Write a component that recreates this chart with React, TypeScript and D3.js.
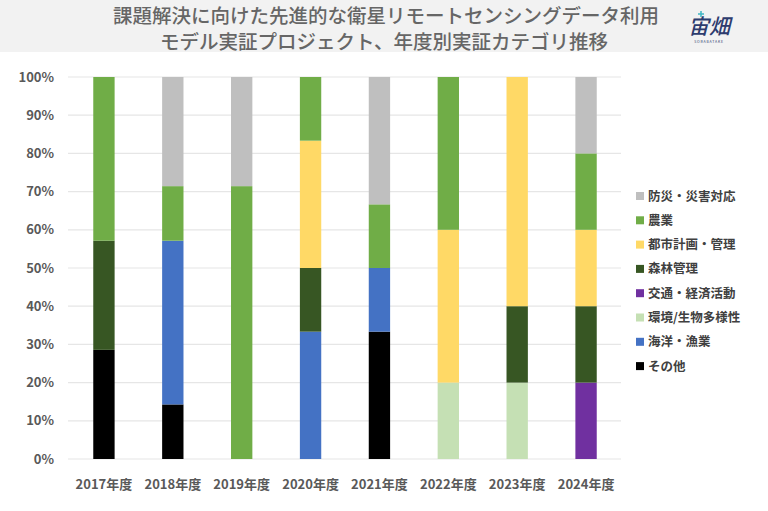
import React from "react";
import * as d3 from "d3";

const years = ["2017年度", "2018年度", "2019年度", "2020年度", "2021年度", "2022年度", "2023年度", "2024年度"];
// stacking order bottom -> top
const categories = ["その他", "海洋・漁業", "環境/生物多様性", "交通・経済活動", "森林管理", "都市計画・管理", "農業", "防災・災害対応"];
const colors = ["#000000", "#4472C4", "#C5E0B4", "#7030A0", "#375623", "#FFD966", "#70AD47", "#BFBFBF"];
// project counts per year for each category
const sonota = [2, 1, 0, 0, 2, 0, 0, 0];
const kaiyo = [0, 3, 0, 2, 1, 0, 0, 0];
const kankyo = [0, 0, 0, 0, 0, 1, 1, 0];
const kotsu = [0, 0, 0, 0, 0, 0, 0, 1];
const shinrin = [2, 0, 0, 1, 0, 0, 1, 1];
const toshi = [0, 0, 0, 2, 0, 2, 3, 1];
const nogyo = [3, 1, 5, 1, 1, 2, 0, 1];
const bosai = [0, 2, 2, 0, 2, 0, 0, 1];
const yTicks = [0, 0.1, 0.2, 0.3, 0.4, 0.5, 0.6, 0.7, 0.8, 0.9, 1];

const W = 768, H = 511;
const FONT = "'Noto Sans CJK JP', 'Noto Sans', sans-serif";

export default function App() {
  const series = [sonota, kaiyo, kankyo, kotsu, shinrin, toshi, nogyo, bosai];
  const rows = years.map((y, i) => {
    const r: any = { year: y };
    categories.forEach((c, k) => (r[c] = series[k][i]));
    return r;
  });
  const stack = d3.stack<any>().keys(categories).offset(d3.stackOffsetExpand);
  const stacked = stack(rows);

  const x = d3.scaleBand().domain(years).range([69.5, 620.5]).paddingInner(0.69).paddingOuter(0.345);
  const y = d3.scaleLinear().domain([0, 1]).range([459, 77]);
  const legendOrder = [...categories].reverse();
  const legendColors = [...colors].reverse();

  return (
    <svg width={W} height={H} style={{ position: "absolute", left: 0, top: 0, display: "block" }} fontFamily={FONT}>
      <rect x={0} y={0} width={W} height={H} fill="#ffffff" />
      <rect x={0} y={0} width={W} height={52} fill="#f2f2f2" />
      <text x={386} y={23} textAnchor="middle" fontSize={19.5} fontWeight={500} fill="#666666">
        課題解決に向けた先進的な衛星リモートセンシングデータ利用
      </text>
      <text x={384} y={48.5} textAnchor="middle" fontSize={19.5} fontWeight={500} fill="#666666">
        モデル実証プロジェクト、年度別実証カテゴリ推移
      </text>
      <g>
        <text x={709} y={34} textAnchor="middle" fontSize={21} fontWeight={500} fill="#2d3c6e" fontStyle="italic">宙畑</text>
        <text x={709} y={43} textAnchor="middle" fontSize={3.5} fill="#2d3c6e" letterSpacing={0.8}>SORABATAKE</text>
        <path d="M701 11 v6 M698 14 h6" stroke="#3fb6c4" strokeWidth={1.5} />
      </g>
      {yTicks.map((t) => (
        <g key={t}>
          <line x1={68} x2={621} y1={y(t)} y2={y(t)} stroke="#e6e6e6" strokeWidth={1.2} />
          <text x={54} y={y(t) + 4.5} textAnchor="end" fontSize={13} fontWeight={700} fill="#595959">
            {d3.format(".0%")(t)}
          </text>
        </g>
      ))}
      {stacked.map((s, k) => (
        <g key={s.key} fill={colors[k]}>
          {s.map((d, i) => {
            const h = y(d[0]) - y(d[1]);
            if (!(h > 0)) return null;
            return <rect key={i} x={x(years[i])} y={y(d[1])} width={x.bandwidth()} height={h} />;
          })}
        </g>
      ))}
      {years.map((yr) => (
        <text key={yr} x={(x(yr) as number) + x.bandwidth() / 2} y={489} textAnchor="middle" fontSize={13} fontWeight={700} fill="#595959">
          {yr}
        </text>
      ))}
      {legendOrder.map((c, i) => {
        const cy = 196 + i * 24.3;
        return (
          <g key={c}>
            <rect x={636} y={cy - 4} width={8} height={8} fill={legendColors[i]} />
            <text x={648} y={cy + 4.5} fontSize={12.5} fontWeight={700} fill="#404040">{c}</text>
          </g>
        );
      })}
    </svg>
  );
}
